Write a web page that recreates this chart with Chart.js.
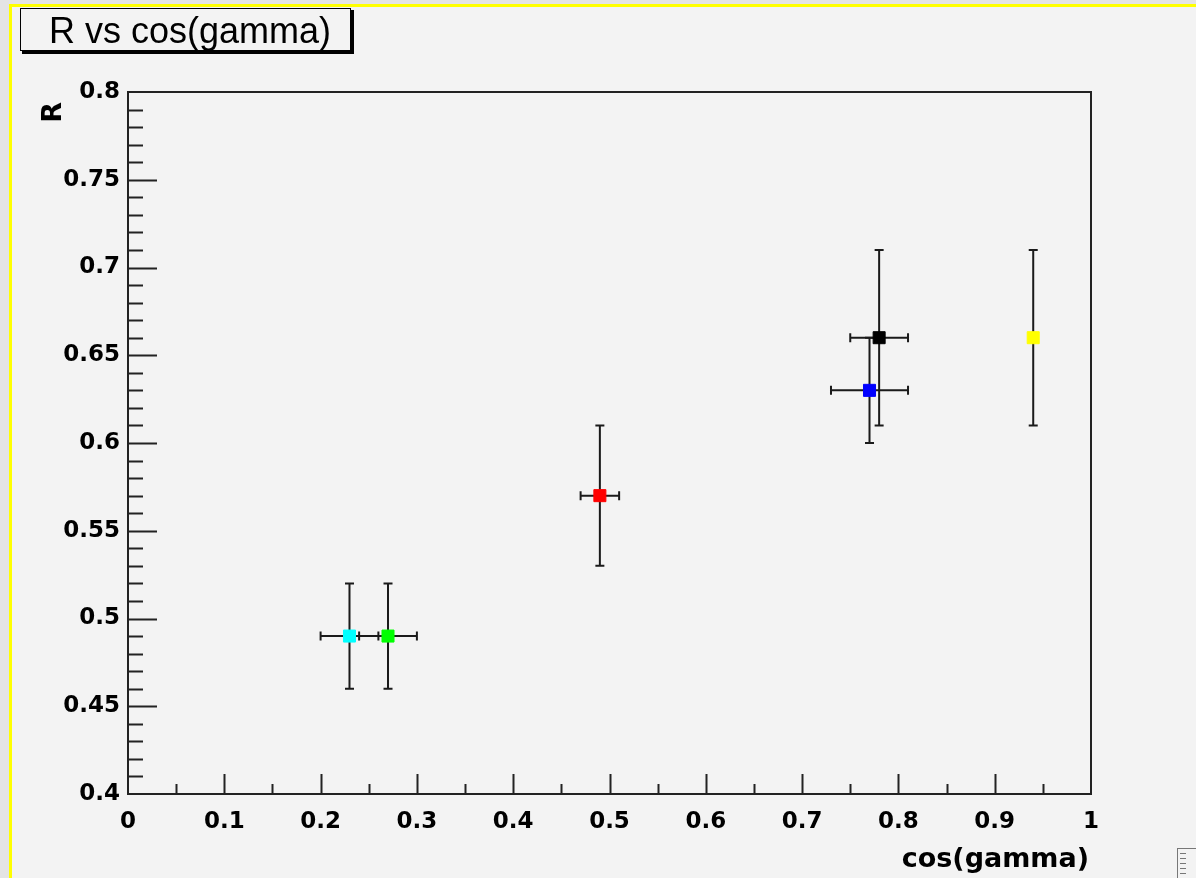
<!DOCTYPE html>
<html>
<head>
<meta charset="utf-8">
<title>R vs cos(gamma)</title>
<script src="https://cdn.jsdelivr.net/npm/chart.js@4.4.1/dist/chart.umd.min.js"></script>
<style>
  html, body { margin: 0; padding: 0; background: #e4e4e4; }
  #wrap { width: 1196px; height: 878px; }
</style>
</head>
<body>
<div id="wrap"><canvas id="rChart" width="1196" height="878"></canvas></div>
<script>
// points
const cosGamma = [0.23, 0.27, 0.49, 0.77, 0.78, 0.94];
const rValues = [0.49, 0.49, 0.57, 0.63, 0.66, 0.66];
const cosGammaErr = [0.03, 0.03, 0.02, 0.04, 0.03, 0];
const rErr = [0.03, 0.03, 0.04, 0.03, 0.05, 0.05];
const markerColors = ['#00ffff', '#00ff00', '#ff0000', '#0000ff', '#000000', '#ffff00'];

const xRange = [0, 1];
const yRange = [0.4, 0.8];
const xMajorStep = 0.1, xMinorStep = 0.05;
const yMajorStep = 0.05, yMinorStep = 0.01;

const titleText = 'R vs cos(gamma)';
const xTitle = 'cos(gamma)';
const yTitle = 'R';

const ctxEl = document.getElementById('rChart');

function fmt(v) {
    return String(parseFloat(v.toFixed(2)));
}

const rootStyle = {
    id: 'rootStyle',
    beforeDraw(chart) {
        const c = chart.ctx;
        c.save();
        c.fillStyle = '#e4e4e4';
        c.fillRect(0, 0, chart.width, chart.height);
        c.fillStyle = '#ffff00';
        c.fillRect(9, 4, chart.width, chart.height);
        c.fillStyle = '#f3f3f3';
        c.fillRect(12, 7, chart.width, chart.height);
        c.restore();
    },
    beforeDatasetsDraw(chart) {
        // error bars under the markers
        const c = chart.ctx;
        const xs = chart.scales.x, ys = chart.scales.y;
        const cap = 4.5;
        c.save();
        c.strokeStyle = '#1a1a1a';
        c.lineWidth = 2;
        for (let i = 0; i < cosGamma.length; i++) {
            const px = xs.getPixelForValue(cosGamma[i]);
            const py = ys.getPixelForValue(rValues[i]);
            c.beginPath();
            if (rErr[i] > 0) {
                const top = ys.getPixelForValue(rValues[i] + rErr[i]);
                const bot = ys.getPixelForValue(rValues[i] - rErr[i]);
                c.moveTo(px, top); c.lineTo(px, bot);
                c.moveTo(px - cap, top); c.lineTo(px + cap, top);
                c.moveTo(px - cap, bot); c.lineTo(px + cap, bot);
            }
            if (cosGammaErr[i] > 0) {
                const lft = xs.getPixelForValue(cosGamma[i] - cosGammaErr[i]);
                const rgt = xs.getPixelForValue(cosGamma[i] + cosGammaErr[i]);
                c.moveTo(lft, py); c.lineTo(rgt, py);
                c.moveTo(lft, py - cap); c.lineTo(lft, py + cap);
                c.moveTo(rgt, py - cap); c.lineTo(rgt, py + cap);
            }
            c.stroke();
        }
        c.restore();
    },
    afterDraw(chart) {
        const c = chart.ctx;
        const a = chart.chartArea;
        const xs = chart.scales.x, ys = chart.scales.y;
        c.save();

        // frame
        c.strokeStyle = '#222';
        c.lineWidth = 2;
        c.strokeRect(a.left, a.top, a.right - a.left, a.bottom - a.top);

        // inward ticks, y axis
        c.beginPath();
        const nY = Math.round((yRange[1] - yRange[0]) / yMinorStep);
        for (let k = 1; k < nY; k++) {
            const v = yRange[0] + k * yMinorStep;
            const py = Math.round(ys.getPixelForValue(v)) + 0.5;
            const len = (k % Math.round(yMajorStep / yMinorStep) === 0) ? 29 : 15;
            c.moveTo(a.left, py); c.lineTo(a.left + len, py);
        }
        // inward ticks, x axis
        const nX = Math.round((xRange[1] - xRange[0]) / xMinorStep);
        for (let k = 1; k < nX; k++) {
            const v = xRange[0] + k * xMinorStep;
            const px = Math.round(xs.getPixelForValue(v)) + 0.5;
            const len = (k % Math.round(xMajorStep / xMinorStep) === 0) ? 20 : 10;
            c.moveTo(px, a.bottom); c.lineTo(px, a.bottom - len);
        }
        c.lineWidth = 2;
        c.stroke();

        // axis titles
        c.fillStyle = '#000';
        c.font = 'bold 27px "DejaVu Sans"';
        c.textAlign = 'right';
        c.textBaseline = 'alphabetic';
        c.fillText(xTitle, a.right - 2, 867);
        c.save();
        c.translate(61, a.top + 10);
        c.rotate(-Math.PI / 2);
        c.fillText(yTitle, 0, 0);
        c.restore();

        // title box with shadow
        c.fillStyle = '#000';
        c.fillRect(22, 10, 332, 44);
        c.fillStyle = '#f3f3f3';
        c.fillRect(20, 8, 331, 43);
        c.strokeStyle = '#000';
        c.lineWidth = 1;
        c.strokeRect(20.5, 8.5, 330, 42);
        c.fillStyle = '#000';
        c.font = '36px "Liberation Sans"';
        c.textAlign = 'center';
        c.fillText(titleText, 190, 43);

        // little status icon, bottom right
        c.strokeStyle = '#777';
        c.lineWidth = 1;
        c.strokeRect(1177.5, 848.5, 24, 34);
        c.beginPath();
        for (let r = 0; r < 5; r++) {
            c.moveTo(1180, 853.5 + r * 5); c.lineTo(1186, 853.5 + r * 5);
        }
        c.stroke();
        c.restore();
    }
};

const chart = new Chart(ctxEl, {
    type: 'scatter',
    data: {
        datasets: [{
            label: 'R',
            data: cosGamma.map((x, i) => ({ x: x, y: rValues[i] })),
            pointStyle: 'rect',
            pointRadius: 8.5,
            pointHoverRadius: 8.5,
            pointBackgroundColor: markerColors,
            pointBorderColor: markerColors,
            pointBorderWidth: 1
        }]
    },
    options: {
        responsive: false,
        animation: false,
        devicePixelRatio: 1,
        layout: { padding: { left: 0, top: 92, right: 105, bottom: 0 } },
        plugins: {
            legend: { display: false },
            tooltip: { enabled: false }
        },
        scales: {
            x: {
                type: 'linear',
                min: xRange[0],
                max: xRange[1],
                grid: { display: false, drawTicks: false },
                border: { display: false },
                ticks: {
                    stepSize: xMajorStep,
                    autoSkip: false,
                    maxRotation: 0,
                    padding: 14,
                    color: '#000',
                    font: { family: 'DejaVu Sans', weight: 'bold', size: 23 },
                    callback: v => fmt(v)
                },
                afterFit(scale) { scale.height = 84; }
            },
            y: {
                type: 'linear',
                min: yRange[0],
                max: yRange[1],
                grid: { display: false, drawTicks: false },
                border: { display: false },
                ticks: {
                    stepSize: yMajorStep,
                    autoSkip: false,
                    padding: 8,
                    color: '#000',
                    font: { family: 'DejaVu Sans', weight: 'bold', size: 23 },
                    callback: v => fmt(v)
                },
                afterFit(scale) { scale.width = 128; }
            }
        }
    },
    plugins: [rootStyle]
});
</script>
</body>
</html>
